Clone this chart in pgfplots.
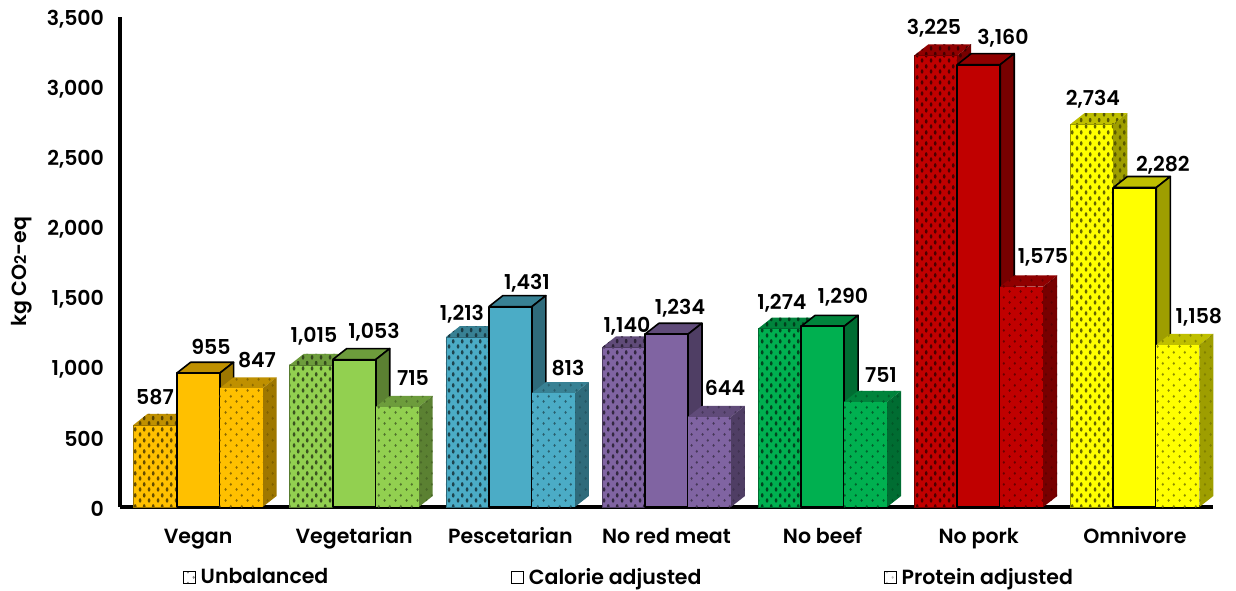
\documentclass[border=0pt]{standalone}
\usepackage{pgfplots}
\pgfplotsset{compat=1.18}
\usepackage{fontspec}
\usetikzlibrary{patterns}
\setmainfont{Poppins Medium}[BoldFont={Poppins SemiBold}]
\pgfdeclarepatternformonly{dotsA}{\pgfpointorigin}{\pgfqpoint{8.6pt}{11pt}}{\pgfqpoint{8.6pt}{11pt}}{%
 \pgfpathellipse{\pgfqpoint{2.15pt}{2.75pt}}{\pgfqpoint{1.4pt}{0pt}}{\pgfqpoint{0pt}{2.4pt}}\pgfusepath{fill}%
 \pgfpathellipse{\pgfqpoint{6.45pt}{8.25pt}}{\pgfqpoint{1.4pt}{0pt}}{\pgfqpoint{0pt}{2.4pt}}\pgfusepath{fill}}
\pgfdeclarepatternformonly{dotsB}{\pgfpointorigin}{\pgfqpoint{10.6pt}{11pt}}{\pgfqpoint{10.6pt}{11pt}}{%
 \pgfpathellipse{\pgfqpoint{2.65pt}{2.75pt}}{\pgfqpoint{1.2pt}{0pt}}{\pgfqpoint{0pt}{1.6pt}}\pgfusepath{fill}%
 \pgfpathellipse{\pgfqpoint{7.95pt}{8.25pt}}{\pgfqpoint{1.2pt}{0pt}}{\pgfqpoint{0pt}{1.6pt}}\pgfusepath{fill}}
\definecolor{cA}{HTML}{FFC000}
\definecolor{cB}{HTML}{92D050}
\definecolor{cC}{HTML}{4BACC6}
\definecolor{cD}{HTML}{8064A2}
\definecolor{cE}{HTML}{00B050}
\definecolor{cF}{HTML}{C00000}
\definecolor{cG}{HTML}{FFFF00}
% group index, value, colour, kind (1 unbalanced, 2 calorie, 3 protein)
\newcommand\faces[4]{%
 \pgfmathsetmacro\xl{#1+(#4-2)*0.2754-0.1377}%
 \pgfmathsetmacro\xr{\xl+0.2754}%
 \pgfmathsetmacro\xdl{\xl+0.0897}%
 \pgfmathsetmacro\xdr{\xr+0.0897}%
 \pgfmathsetmacro\yt{#2+78.6}%
 \addplot[forget plot,face#4top={#3}] coordinates {(\xl,#2) (\xdl,\yt) (\xdr,\yt) (\xr,#2) (\xl,#2)};
 \addplot[forget plot,face#4side={#3}] coordinates {(\xr,0) (\xdr,78.6) (\xdr,\yt) (\xr,#2) (\xr,0)};
 \addplot[forget plot,ybar,bar width=0.2754,face#4front={#3}] coordinates {(#1,#2)};
}
\pgfplotsset{
 face1top/.style={preaction={fill=#1!75!black},pattern=dotsA,pattern color=#1!35!black,draw=none},
 face1side/.style={preaction={fill=#1!62!black},pattern=dotsA,pattern color=#1!35!black,draw=none},
 face1front/.style={bar shift=-0.2754,preaction={fill=#1},pattern=dotsA,pattern color=#1!40!black,draw=#1!60!black,line width=0.5pt},
 face2top/.style={fill=#1!75!black,draw=black,line width=1.6pt,line join=round},
 face2side/.style={fill=#1!62!black,draw=black,line width=1.6pt,line join=round},
 face2front/.style={bar shift=0,fill=#1,draw=black,line width=2pt,line join=round},
 face3top/.style={preaction={fill=#1!75!black},pattern=dotsB,pattern color=#1!55!black,draw=none},
 face3side/.style={preaction={fill=#1!62!black},pattern=dotsB,pattern color=#1!50!black,draw=none},
 face3front/.style={bar shift=0.2754,preaction={fill=#1},pattern=dotsB,pattern color=#1!55!black,draw=none},
}
\newcommand\lbl[3]{%
 \node[font=\bfseries\fontsize{20.5}{22}\selectfont,inner sep=0pt] at (axis cs:{(#1-120)/156.14-0.5},{(507-#2)/0.14}) {#3};}
\begin{document}
\begin{tikzpicture}[x=1pt,y=1pt]
\useasboundingbox (0,0) rectangle (1236,590);
\begin{axis}[
 at={(120pt,83pt)},anchor=south west,scale only axis,width=1093pt,height=490pt,
 xmin=-0.5,xmax=6.5,ymin=0,ymax=3500,clip=false,
 axis x line*=bottom,axis y line*=left,
 axis line style={line width=3.2pt,-,black},
 xtick={0,1,2,3,4,5,6},
 xticklabels={Vegan,Vegetarian,Pescetarian,No red meat,No beef,No pork,Omnivore},
 ytick={0,500,1000,1500,2000,2500,3000,3500},
 major tick length=0pt,
 /pgf/number format/assume math mode=true,
 /pgf/number format/1000 sep={,},
 tick label style={font=\bfseries\fontsize{20.5}{22}\selectfont,black},
 yticklabel style={anchor=east,xshift=-12.5pt,yshift=-2pt},
 xticklabel style={anchor=base,yshift=-36pt},
 ylabel={kg CO{\fontsize{16}{17}\selectfont 2}-eq},
 ylabel style={font=\bfseries\fontsize{20.5}{22}\selectfont,at={(axis description cs:-0.09,0.48)},anchor=center},
 legend columns=3,
 legend style={at={(axis cs:-0.097,-500)},anchor=west,draw=none,fill=none,inner sep=0pt,font=\bfseries\fontsize{20.5}{22}\selectfont,
   /tikz/every even column/.append style={column sep=177.5pt},
   nodes={inner xsep=5pt}},
 legend cell align=left,
]
\addlegendimage{legend image code/.code={\draw[draw=gray,fill=white,line width=0.6pt] (0pt,-6pt) rectangle (12pt,6pt);\fill[pattern=dotsB,pattern color=gray] (0pt,-6pt) rectangle (12pt,6pt);}}
\addlegendentry{Unbalanced}
\addlegendimage{legend image code/.code={\draw[draw=black,fill=white,line width=1pt] (0pt,-6pt) rectangle (12pt,6pt);}}
\addlegendentry{Calorie adjusted}
\addlegendimage{legend image code/.code={\draw[draw=lightgray,fill=white,line width=0.6pt] (0pt,-6pt) rectangle (12pt,6pt);\fill[pattern=dotsB,pattern color=lightgray] (0pt,-6pt) rectangle (12pt,6pt);}}
\addlegendentry{Protein adjusted}
% Unbalanced
\faces{0}{587}{cA}{1}
\faces{1}{1015}{cB}{1}
\faces{2}{1213}{cC}{1}
\faces{3}{1140}{cD}{1}
\faces{4}{1274}{cE}{1}
\faces{5}{3225}{cF}{1}
\faces{6}{2734}{cG}{1}
% Calorie adjusted
\faces{0}{955}{cA}{2}
\faces{1}{1053}{cB}{2}
\faces{2}{1431}{cC}{2}
\faces{3}{1234}{cD}{2}
\faces{4}{1290}{cE}{2}
\faces{5}{3160}{cF}{2}
\faces{6}{2282}{cG}{2}
% Protein adjusted
\faces{0}{847}{cA}{3}
\faces{1}{715}{cB}{3}
\faces{2}{813}{cC}{3}
\faces{3}{644}{cD}{3}
\faces{4}{751}{cE}{3}
\faces{5}{1575}{cF}{3}
\faces{6}{1158}{cG}{3}
\lbl{155}{397}{587}\lbl{211}{347}{955}\lbl{257}{360}{847}
\lbl{314}{336}{1,015}\lbl{374}{332}{1,053}\lbl{413}{378}{715}
\lbl{462}{314}{1,213}\lbl{527}{283}{1,431}\lbl{568}{368}{813}
\lbl{627}{326}{1,140}\lbl{680}{308}{1,234}\lbl{725}{388}{644}
\lbl{782}{303}{1,274}\lbl{843}{297}{1,290}\lbl{881}{375}{751}
\lbl{934}{28}{3,225}\lbl{1003}{38}{3,160}\lbl{1043}{257}{1,575}
\lbl{1093}{99}{2,734}\lbl{1163}{165}{2,282}\lbl{1199}{317}{1,158}
\end{axis}
\end{tikzpicture}
\end{document}
